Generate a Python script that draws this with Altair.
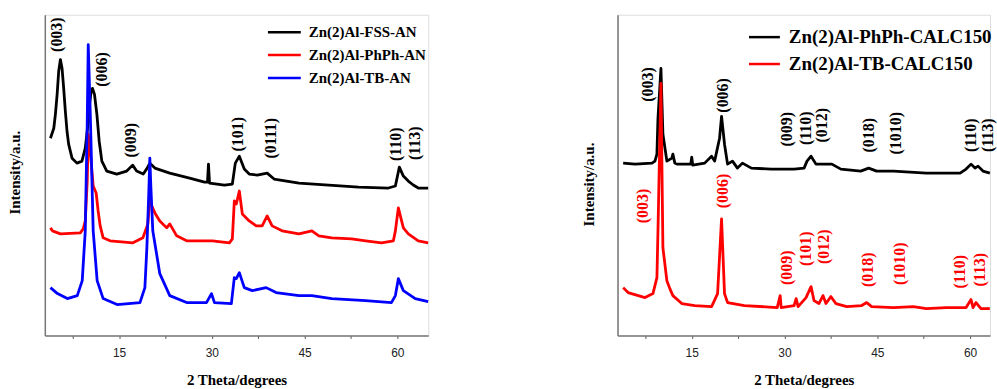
import altair as alt
import pandas as pd

SERIF = "Liberation Serif"
SANS = "Liberation Sans"

# ---------------- Left panel: as-synthesised samples ----------------
fss_an_2theta = [3.91, 4.45, 4.71, 4.99, 5.24, 5.52, 5.79, 6.05, 6.32, 6.59, 6.85, 7.40, 8.20, 9.00,
                 9.54, 9.91, 10.23, 10.45, 10.71, 11.03, 11.42, 11.79, 12.22, 13.02, 14.63, 16.24,
                 17.20, 17.84, 18.91, 19.45, 19.98, 20.79, 23.20, 26.41, 28.82, 29.30, 29.46, 29.63,
                 32.04, 33.32, 33.80, 34.45, 35.25, 36.05, 37.34, 38.95, 40.07, 44.09, 48.91, 53.73,
                 58.56, 59.68, 60.32, 60.97, 61.77, 62.57, 63.38, 64.98]
fss_an_int = [198, 208, 222, 242, 265, 277, 268, 248, 225, 205, 192, 178, 173, 175,
              188, 208, 232, 243, 248, 242, 222, 195, 175, 165, 162, 165,
              171, 165, 162, 167, 173, 168, 163, 158, 154, 154, 172, 153,
              151, 152, 173, 180, 167, 162, 161, 163, 157, 153, 151, 149,
              148, 150, 169, 160, 155, 151, 148, 148]

phph_an_2theta = [3.91, 4.23, 5.52, 8.73, 9.21, 9.54, 9.86, 10.02, 10.34, 10.82, 11.30, 11.62, 11.95,
                  12.43, 13.55, 17.25, 18.86, 19.66, 19.98, 20.30, 20.79, 21.59, 22.71, 23.20, 24.32,
                  25.93, 30.11, 32.84, 33.32, 33.64, 33.96, 34.45, 34.93, 36.05, 37.18, 38.14, 38.95,
                  39.75, 41.36, 44.09, 46.18, 47.30, 49.39, 52.61, 54.86, 57.43, 59.36, 59.68, 60.16,
                  60.97, 61.77, 63.38, 64.98]
phph_an_int = [108, 105, 102, 103, 107, 115, 155, 202, 185, 150, 143, 125, 110,
               98, 95, 93, 98, 112, 137, 130, 123, 115, 108, 112, 100,
               95, 95, 93, 97, 135, 132, 145, 122, 115, 110, 110, 120,
               110, 105, 102, 105, 100, 98, 97, 95, 93, 95, 105, 128,
               108, 102, 95, 93]

tb_an_2theta = [3.91, 5.04, 6.64, 8.25, 9.05, 9.54, 9.86, 10.02, 10.34, 10.82, 11.46, 12.43, 14.68,
                18.38, 19.18, 19.50, 19.82, 19.98, 20.14, 20.46, 21.59, 23.20, 25.93, 29.14, 29.95,
                30.43, 33.16, 33.64, 33.96, 34.45, 35.25, 36.54, 38.79, 40.39, 44.09, 46.18, 49.39,
                54.86, 59.04, 59.68, 60.16, 60.97, 62.89, 64.98]
tb_an_int = [48, 42, 37, 40, 55, 105, 215, 292, 225, 105, 55, 37, 31,
             33, 48, 88, 145, 178, 150, 105, 62, 40, 33, 33, 42,
             33, 32, 58, 57, 63, 48, 45, 48, 43, 40, 40, 37,
             35, 33, 40, 57, 45, 37, 34]

left_names = ["Zn(2)Al-FSS-AN", "Zn(2)Al-PhPh-AN", "Zn(2)Al-TB-AN"]
left_colors = ["#000000", "#ff0000", "#0000ff"]

left_hkl = ["(003)", "(006)", "(009)", "(101)", "(0111)", "(110)", "(113)"]
left_hkl_2theta = [5.04, 12.27, 16.93, 34.29, 39.59, 59.84, 62.89]
left_hkl_int = [302, 267, 196, 202, 198, 192, 193]

# ---------------- Right panel: calcined samples ----------------
phph_calc_2theta = [3.91, 5.84, 8.57, 9.05, 9.37, 9.54, 10.02, 10.34, 10.98, 11.79, 11.95, 12.27, 12.59,
                    14.84, 15.00, 15.16, 17.09, 18.21, 18.70, 19.50, 19.82, 20.30, 20.79, 21.59, 22.39,
                    23.20, 24.64, 27.86, 31.55, 33.16, 33.64, 34.29, 35.09, 36.38, 37.66, 39.11, 42.32,
                    43.61, 44.89, 47.63, 52.93, 58.39, 59.36, 60.16, 60.80, 61.29, 62.09, 63.2]
phph_calc_int = [173, 172, 173, 175, 182, 218, 268, 202, 175, 178, 182, 173, 172,
                 172, 179, 171, 173, 180, 175, 198, 220, 192, 172, 175, 168,
                 173, 168, 167, 167, 168, 175, 180, 172, 172, 172, 167, 165,
                 168, 165, 165, 163, 163, 167, 172, 168, 170, 165, 163]

tb_calc_2theta = [3.91, 4.71, 7.45, 8.73, 9.37, 9.54, 10.02, 10.34, 10.98, 11.46, 11.95, 13.39, 15.48,
                  18.21, 19.18, 19.82, 20.30, 20.79, 23.52, 28.82, 29.30, 29.46, 31.55, 31.88, 32.20,
                  33.48, 34.29, 34.77, 35.57, 36.22, 36.70, 37.50, 38.30, 40.07, 42.48, 43.29, 44.09,
                  47.63, 50.84, 52.93, 56.14, 59.36, 60.16, 60.48, 60.97, 61.77, 63.2]
tb_calc_int = [48, 43, 38, 42, 58, 105, 253, 88, 55, 47, 40, 32, 30,
               29, 42, 117, 42, 33, 30, 28, 40, 28, 30, 37, 29,
               38, 49, 35, 32, 40, 32, 39, 32, 29, 30, 33, 29,
               28, 29, 27, 28, 28, 36, 28, 33, 27, 27]

right_names = ["Zn(2)Al-PhPh-CALC150", "Zn(2)Al-TB-CALC150"]
right_colors = ["#000000", "#ff0000"]

right_hkl = ["(003)", "(006)", "(009)", "(110)", "(012)", "(018)", "(1010)", "(110)", "(113)"]
right_black_hkl_2theta = [7.93, 19.98, 30.43, 33.48, 36.05, 43.61, 47.95, 60.16, 62.9]
right_black_hkl_int = [252, 241, 207, 208, 211, 201, 203, 201, 201]

right_red_hkl = ["(003)", "(006)", "(009)", "(101)", "(012)", "(018)", "(1010)", "(110)", "(113)"]
right_red_hkl_2theta = [7.12, 19.98, 30.43, 33.48, 36.38, 43.45, 48.75, 58.39, 61.61]
right_red_hkl_int = [130, 145, 68, 87, 89, 66, 72, 64, 66]

X_TICKS = [7.5, 15, 22.5, 30, 37.5, 45, 52.5, 60]


def series_frame(names, xs_list, ys_list):
    rows = []
    for name, xs, ys in zip(names, xs_list, ys_list):
        for i, (a, b) in enumerate(zip(xs, ys)):
            rows.append({"series": name, "two_theta": a, "intensity": b, "idx": i})
    return pd.DataFrame(rows)


def x_axis():
    return alt.Axis(values=X_TICKS, labelExpr="datum.value % 15 == 0 ? datum.label : ''",
                    title="2 Theta/degrees", titleFont=SERIF, titleFontSize=15, titleFontWeight="bold",
                    titleColor="black", titleY=44, titleBaseline="middle",
                    labelFont=SANS, labelFontSize=12, labelColor="#222", labelPadding=9,
                    tickSize=3, tickColor="#555", domainColor="#777", domainWidth=1.5, grid=False)


def y_axis(tx, ty):
    return alt.Axis(labels=False, ticks=False, grid=False, title="Intensity/a.u.",
                    titleFont=SERIF, titleFontSize=15, titleFontWeight="bold", titleColor="black",
                    titleX=tx, titleY=ty, titleAngle=270, titleAlign="center", titleBaseline="middle",
                    domainColor="#777", domainWidth=1.5)


def panel(df, names, colors, x_max, ytx, yty, leg_x, leg_y, leg_path, leg_font, leg_offset, width):
    legend = alt.Legend(orient="none", legendX=leg_x, legendY=leg_y, title=None,
                        symbolType=leg_path, symbolSize=100, symbolStrokeWidth=2.5,
                        labelFont=SERIF, labelFontSize=leg_font, labelFontWeight="bold",
                        labelColor="black", labelOffset=leg_offset, rowPadding=7, padding=0,
                        labelLimit=0)
    x = alt.X("two_theta:Q", scale=alt.Scale(domain=[3, x_max], nice=False, zero=False), axis=x_axis())
    y = alt.Y("intensity:Q", scale=alt.Scale(domain=[0, 322], nice=False, zero=False), axis=y_axis(ytx, yty))
    lines = alt.Chart(df).mark_line(strokeWidth=2.8, strokeJoin="round").encode(
        x=x, y=y,
        color=alt.Color("series:N", scale=alt.Scale(domain=names, range=colors), legend=legend),
        order="idx:Q",
    )
    return lines.properties(width=width, height=322)


def labels(names, xs, ys, color, x_max):
    df = pd.DataFrame({"label": names, "two_theta": xs, "intensity": ys})
    return alt.Chart(df).mark_text(angle=270, font=SERIF, fontSize=16, fontWeight="bold",
                                   align="center", baseline="middle", color=color).encode(
        x=alt.X("two_theta:Q", scale=alt.Scale(domain=[3, x_max], nice=False, zero=False)),
        y=alt.Y("intensity:Q", scale=alt.Scale(domain=[0, 322], nice=False, zero=False)),
        text="label:N",
    )


left_df = series_frame(left_names, [fss_an_2theta, phph_an_2theta, tb_an_2theta],
                       [fss_an_int, phph_an_int, tb_an_int])
right_df = series_frame(right_names, [phph_calc_2theta, tb_calc_2theta],
                        [phph_calc_int, tb_calc_int])

RIGHT_MAX = 63.23
RIGHT_W = 374

left = alt.layer(
    panel(left_df, left_names, left_colors, 65, -30, 158, 233, 10, "M-3.3,0H3.3", 15, 17, 385),
    labels(left_hkl, left_hkl_2theta, left_hkl_int, "black", 65),
).properties(width=385, height=322)

right = alt.layer(
    panel(right_df, right_names, right_colors, RIGHT_MAX, -29, 170, 138, 13, "M-3.1,0H3.1", 19, 15, RIGHT_W),
    labels(right_hkl, right_black_hkl_2theta, right_black_hkl_int, "black", RIGHT_MAX),
    labels(right_red_hkl, right_red_hkl_2theta, right_red_hkl_int, "#ff0000", RIGHT_MAX),
).properties(width=RIGHT_W, height=322)

chart = alt.hconcat(left, right, spacing=151).resolve_scale(color="independent").resolve_legend(
    color="independent").properties(
    padding={"left": 7, "top": 13, "right": 0, "bottom": 0}
).configure_view(stroke=None).configure(background="white")

chart.save("out.html", embed_options={"renderer": "svg", "actions": False})
